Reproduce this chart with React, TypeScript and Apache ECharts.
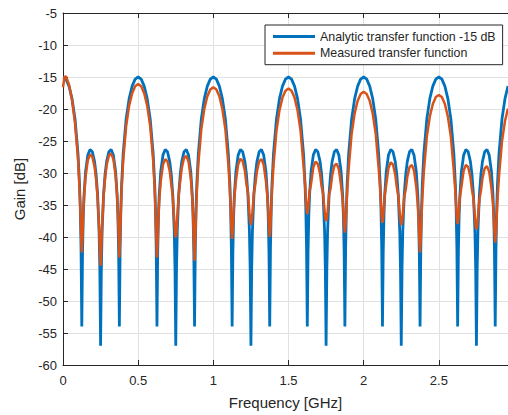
import React, { useEffect, useRef } from "react";
import * as echarts from "echarts";

// Frequency samples [GHz]
const freqGHz: number[] = [
  0, 0.01, 0.02, 0.04, 0.06, 0.08, 0.10, 0.11, 0.115, 0.12, 0.125, 0.13, 0.135, 0.14, 0.15, 0.165, 0.18, 0.195, 0.21, 0.22, 0.23, 0.24, 0.245, 0.25, 0.255, 0.26, 0.27, 0.28, 0.29, 0.305, 0.32, 0.335, 0.35, 0.36, 0.365, 0.37, 0.375, 0.38, 0.385, 0.39, 0.40, 0.42, 0.44, 0.46, 0.48,
  0.5, 0.52, 0.54, 0.56, 0.58, 0.60, 0.61, 0.615, 0.62, 0.625, 0.63, 0.635, 0.64, 0.65, 0.665, 0.68, 0.695, 0.71, 0.72, 0.73, 0.74, 0.745, 0.75, 0.755, 0.76, 0.77, 0.78, 0.79, 0.805, 0.82, 0.835, 0.85, 0.86, 0.865, 0.87, 0.875, 0.88, 0.885, 0.89, 0.90, 0.92, 0.94, 0.96, 0.98,
  1.0, 1.02, 1.04, 1.06, 1.08, 1.10, 1.11, 1.115, 1.12, 1.125, 1.13, 1.135, 1.14, 1.15, 1.165, 1.18, 1.195, 1.21, 1.22, 1.23, 1.24, 1.245, 1.25, 1.255, 1.26, 1.27, 1.28, 1.29, 1.305, 1.32, 1.335, 1.35, 1.36, 1.365, 1.37, 1.375, 1.38, 1.385, 1.39, 1.40, 1.42, 1.44, 1.46, 1.48,
  1.5, 1.52, 1.54, 1.56, 1.58, 1.60, 1.61, 1.615, 1.62, 1.625, 1.63, 1.635, 1.64, 1.65, 1.665, 1.68, 1.695, 1.71, 1.72, 1.73, 1.74, 1.745, 1.75, 1.755, 1.76, 1.77, 1.78, 1.79, 1.805, 1.82, 1.835, 1.85, 1.86, 1.865, 1.87, 1.875, 1.88, 1.885, 1.89, 1.90, 1.92, 1.94, 1.96, 1.98,
  2.0, 2.02, 2.04, 2.06, 2.08, 2.10, 2.11, 2.115, 2.12, 2.125, 2.13, 2.135, 2.14, 2.15, 2.165, 2.18, 2.195, 2.21, 2.22, 2.23, 2.24, 2.245, 2.25, 2.255, 2.26, 2.27, 2.28, 2.29, 2.305, 2.32, 2.335, 2.35, 2.36, 2.365, 2.37, 2.375, 2.38, 2.385, 2.39, 2.40, 2.42, 2.44, 2.46, 2.48,
  2.5, 2.52, 2.54, 2.56, 2.58, 2.60, 2.61, 2.615, 2.62, 2.625, 2.63, 2.635, 2.64, 2.65, 2.665, 2.68, 2.695, 2.71, 2.72, 2.73, 2.74, 2.745, 2.75, 2.755, 2.76, 2.77, 2.78, 2.79, 2.805, 2.82, 2.835, 2.85, 2.86, 2.865, 2.87, 2.875, 2.88, 2.885, 2.89, 2.90, 2.92, 2.94, 2.96,
];

// Analytic transfer function -15 dB [dB]
const analyticGain: number[] = [
  -15, -15.09, -15.34, -16.42, -18.38, -21.56, -27.04, -31.8, -35.5, -41.8, -54, -42.3, -36.6, -33.46, -29.8, -27.21, -26.33, -26.67, -28.23, -30.18, -33.3, -39.1, -45.06, -57, -45.06, -39.1, -33.3, -30.18, -28.23, -26.67, -26.33, -27.21, -29.8, -33.46, -36.6, -42.3, -54, -41.8, -35.5, -31.8, -27.04, -21.56, -18.38, -16.42, -15.34,
  -15, -15.34, -16.42, -18.38, -21.56, -27.04, -31.8, -35.5, -41.8, -54, -42.3, -36.6, -33.46, -29.8, -27.21, -26.33, -26.67, -28.23, -30.18, -33.3, -39.1, -45.06, -57, -45.06, -39.1, -33.3, -30.18, -28.23, -26.67, -26.33, -27.21, -29.8, -33.46, -36.6, -42.3, -54, -41.8, -35.5, -31.8, -27.04, -21.56, -18.38, -16.42, -15.34,
  -15, -15.34, -16.42, -18.38, -21.56, -27.04, -31.8, -35.5, -41.8, -54, -42.3, -36.6, -33.46, -29.8, -27.21, -26.33, -26.67, -28.23, -30.18, -33.3, -39.1, -45.06, -57, -45.06, -39.1, -33.3, -30.18, -28.23, -26.67, -26.33, -27.21, -29.8, -33.46, -36.6, -42.3, -54, -41.8, -35.5, -31.8, -27.04, -21.56, -18.38, -16.42, -15.34,
  -15, -15.34, -16.42, -18.38, -21.56, -27.04, -31.8, -35.5, -41.8, -54, -42.3, -36.6, -33.46, -29.8, -27.21, -26.33, -26.67, -28.23, -30.18, -33.3, -39.1, -45.06, -57, -45.06, -39.1, -33.3, -30.18, -28.23, -26.67, -26.33, -27.21, -29.8, -33.46, -36.6, -42.3, -54, -41.8, -35.5, -31.8, -27.04, -21.56, -18.38, -16.42, -15.34,
  -15, -15.34, -16.42, -18.38, -21.56, -27.04, -31.8, -35.5, -41.8, -54, -42.3, -36.6, -33.46, -29.8, -27.21, -26.33, -26.67, -28.23, -30.18, -33.3, -39.1, -45.06, -57, -45.06, -39.1, -33.3, -30.18, -28.23, -26.67, -26.33, -27.21, -29.8, -33.46, -36.6, -42.3, -54, -41.8, -35.5, -31.8, -27.04, -21.56, -18.38, -16.42, -15.34,
  -15, -15.34, -16.42, -18.38, -21.56, -27.04, -31.8, -35.5, -41.8, -54, -42.3, -36.6, -33.46, -29.8, -27.21, -26.33, -26.67, -28.23, -30.18, -33.3, -39.1, -45.06, -57, -45.06, -39.1, -33.3, -30.18, -28.23, -26.67, -26.33, -27.21, -29.8, -33.46, -36.6, -42.3, -54, -41.8, -35.5, -31.8, -27.04, -21.56, -18.38, -16.42,
];

// Measured transfer function [dB]
const measuredGain: number[] = [
  -16.6, -15.0, -14.9, -16.2, -18.6, -22.2, -27.8, -32.4, -35.6, -39.6, -42.4, -39.8, -36.35, -33.8, -30.6, -28.0, -27.1, -27.45, -29.0, -31.0, -33.8, -38.6, -42.1, -44.5, -42.0, -38.45, -33.55, -30.8, -28.8, -27.3, -26.95, -27.8, -30.4, -33.6, -36.2, -40.0, -43.2, -40.0, -35.8, -32.5, -28.14, -22.66, -19.48, -17.52, -16.44,
  -16.1, -16.44, -17.52, -19.48, -22.66, -28.14, -32.5, -35.8, -40.0, -43.2, -40.5, -36.9, -34.35, -31.3, -28.71, -27.83, -28.17, -29.73, -31.68, -33.7, -37.3, -39.2, -40.1, -39.1, -37.1, -33.3, -31.18, -29.23, -27.67, -27.33, -28.21, -30.8, -34.0, -36.65, -40.5, -43.7, -40.5, -36.3, -33.0, -28.64, -23.16, -19.98, -18.02, -16.94,
  -16.6, -16.94, -18.02, -19.98, -23.16, -28.64, -32.6, -35.4, -38.6, -40.3, -38.7, -36.0, -33.8, -31.25, -28.66, -27.78, -28.12, -29.7, -31.65, -33.15, -36.2, -37.5, -38.1, -37.5, -36.2, -33.15, -31.68, -29.73, -28.17, -27.83, -28.71, -31.3, -33.8, -35.95, -38.5, -40.0, -38.45, -35.45, -32.7, -28.84, -23.36, -20.18, -18.22, -17.14,
  -16.8, -17.14, -18.22, -20.18, -23.36, -28.84, -31.8, -33.8, -35.65, -36.4, -35.75, -34.3, -32.85, -31.7, -29.11, -28.23, -28.57, -30.13, -32.08, -33.2, -35.9, -37.0, -37.5, -37.1, -36.0, -33.4, -32.38, -30.43, -28.87, -28.53, -29.41, -32.0, -34.2, -36.0, -38.2, -39.3, -38.05, -35.5, -32.95, -29.34, -23.86, -20.68, -18.72, -17.64,
  -17.3, -17.64, -18.72, -20.68, -23.86, -29.34, -32.65, -34.8, -36.9, -37.8, -36.9, -35.2, -33.5, -31.8, -29.21, -28.33, -28.67, -30.23, -32.18, -33.5, -36.35, -37.6, -38.1, -37.6, -36.45, -33.7, -32.58, -30.63, -29.07, -28.73, -29.61, -32.2, -35.0, -37.4, -40.4, -42.4, -40.35, -36.9, -33.95, -29.84, -24.36, -21.18, -19.22, -18.14,
  -17.8, -18.14, -19.22, -21.18, -24.36, -29.84, -33.0, -35.15, -37.15, -38.0, -37.15, -35.5, -33.8, -32.2, -29.61, -28.73, -29.07, -30.63, -32.58, -34.0, -36.9, -38.25, -38.8, -38.25, -37.0, -34.1, -32.78, -30.83, -29.27, -28.93, -29.81, -32.4, -34.8, -36.95, -39.45, -40.9, -39.55, -36.85, -34.25, -30.54, -25.06, -21.88, -19.92,
];

const seriesNames = ["Analytic transfer function -15 dB", "Measured transfer function"];
const seriesColors = ["#0072BD", "#D95319"];

const AXIS = "#262626";
const GRID = "#e1e1e1";
const FONT = "'Liberation Sans', Arial, Helvetica, sans-serif";

export default function App() {
  const ref = useRef<HTMLDivElement>(null);

  useEffect(() => {
    if (!ref.current) return;
    const chart = echarts.init(ref.current, undefined, { renderer: "svg" });
    const blue = freqGHz.map((f, i) => [f, analyticGain[i]]);
    const red = freqGHz.map((f, i) => [f, measuredGain[i]]);

    chart.setOption({
      animation: false,
      backgroundColor: "#ffffff",
      textStyle: { fontFamily: FONT },
      grid: { left: 63, right: 0, top: 13, bottom: 46, containLabel: false },
      legend: {
        orient: "vertical",
        left: 265,
        top: 25,
        padding: [4.5, 7, 4.5, 8],
        itemWidth: 42,
        itemHeight: 3,
        itemGap: 2.7,
        icon: "rect",
        backgroundColor: "#ffffff",
        borderColor: AXIS,
        borderWidth: 1,
        borderRadius: 0,
        textStyle: { fontSize: 12.4, color: AXIS, lineHeight: 14, fontFamily: FONT },
        data: seriesNames,
      },
      xAxis: [
        {
          type: "value",
          min: 0,
          max: 2.96,
          interval: 0.5,
          position: "bottom",
          name: "Frequency [GHz]",
          nameLocation: "middle",
          nameGap: 30,
          nameTextStyle: { fontSize: 15, color: AXIS, fontFamily: FONT },
          axisLine: { show: true, onZero: false, lineStyle: { color: AXIS, width: 1 } },
          axisTick: { show: true, inside: true, length: 5, lineStyle: { color: AXIS } },
          axisLabel: {
            fontSize: 13,
            color: AXIS,
            margin: 9,
            showMaxLabel: false,
            fontFamily: FONT,
            formatter: (v: number) => String(v),
          },
          splitLine: { show: true, lineStyle: { color: GRID, width: 1 } },
        },
        {
          type: "value",
          min: 0,
          max: 2.96,
          interval: 0.5,
          position: "top",
          axisLine: { show: true, onZero: false, lineStyle: { color: AXIS, width: 1 } },
          axisTick: { show: true, inside: true, length: 5, lineStyle: { color: AXIS } },
          axisLabel: { show: false },
          splitLine: { show: false },
        },
      ],
      yAxis: {
        type: "value",
        min: -60,
        max: -5,
        interval: 5,
        name: "Gain [dB]",
        nameLocation: "middle",
        nameGap: 30,
        nameTextStyle: { fontSize: 15, color: AXIS, fontFamily: FONT },
        axisLine: { show: true, onZero: false, lineStyle: { color: AXIS, width: 1 } },
        axisTick: { show: true, inside: true, length: 5, lineStyle: { color: AXIS } },
        axisLabel: { fontSize: 13, color: AXIS, margin: 6, fontFamily: FONT },
        splitLine: { show: true, lineStyle: { color: GRID, width: 1 } },
      },
      series: [
        {
          name: seriesNames[0],
          type: "line",
          xAxisIndex: 0,
          data: blue,
          showSymbol: false,
          symbol: "none",
          color: seriesColors[0],
          lineStyle: { color: seriesColors[0], width: 2.8 },
          z: 2,
        },
        {
          name: seriesNames[1],
          type: "line",
          xAxisIndex: 0,
          data: red,
          showSymbol: false,
          symbol: "none",
          color: seriesColors[1],
          lineStyle: { color: seriesColors[1], width: 2.5 },
          z: 3,
        },
      ],
    });

    return () => chart.dispose();
  }, []);

  return (
    <div
      ref={ref}
      style={{ position: "absolute", left: 0, top: 0, width: 508, height: 415 }}
    />
  );
}
